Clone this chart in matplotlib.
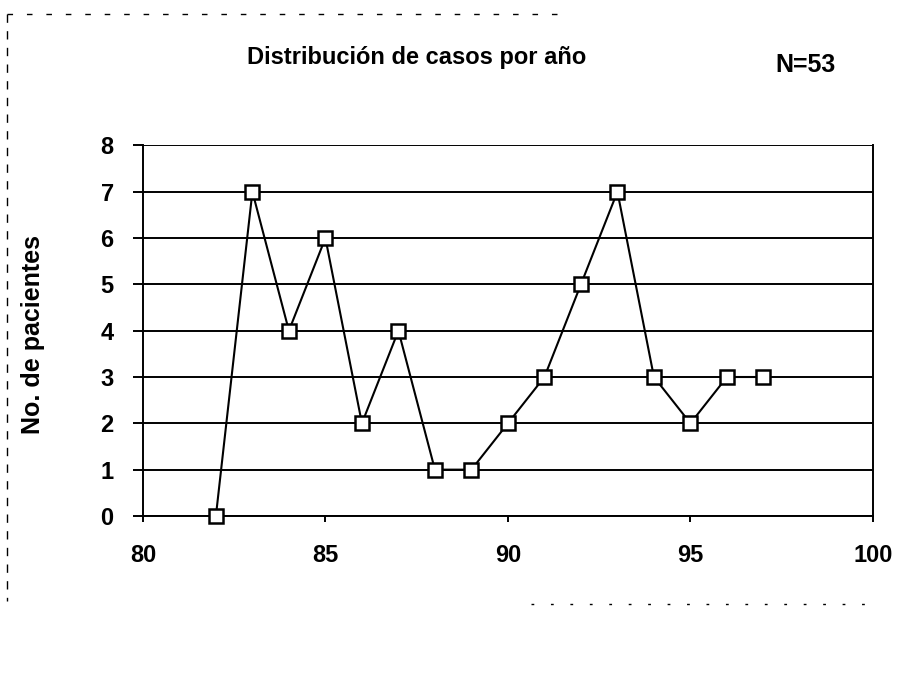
import matplotlib
matplotlib.use("Agg")
import matplotlib.pyplot as plt
from matplotlib.lines import Line2D

years = [82, 83, 84, 85, 86, 87, 88, 89, 90, 91, 92, 93, 94, 95, 96, 97]
cases = [0, 7, 4, 6, 2, 4, 1, 1, 2, 3, 5, 7, 3, 2, 3, 3]
x_ticks = [80, 85, 90, 95, 100]
y_ticks = [0, 1, 2, 3, 4, 5, 6, 7, 8]

plt.rcParams['font.family'] = ['Liberation Sans', 'DejaVu Sans']

fig = plt.figure(figsize=(9.16, 6.75), dpi=100)
ax = fig.add_axes([0.156, 0.2356, 0.797, 0.549])

ax.plot(years, cases, color='black', linewidth=1.5, marker='s', markersize=9.5,
        markerfacecolor='white', markeredgecolor='black', markeredgewidth=1.8,
        zorder=3, clip_on=False)

ax.set_xlim(80, 100)
ax.set_ylim(0, 8)
ax.set_xticks(x_ticks)
ax.set_yticks(y_ticks)
ax.yaxis.grid(True, color='black', linewidth=1.4)
ax.set_axisbelow(True)

for side in ['left', 'right', 'bottom']:
    ax.spines[side].set_linewidth(1.4)
ax.spines['top'].set_visible(False)

ax.tick_params(axis='y', direction='out', length=7, width=1.4, labelsize=17, pad=14)
ax.tick_params(axis='x', direction='out', length=4, width=1.4, labelsize=17, pad=16)
for lab in ax.get_xticklabels() + ax.get_yticklabels():
    lab.set_fontweight('bold')

fig.text(0.036, 0.504, 'No. de pacientes', fontsize=18, fontweight='bold',
         rotation=90, ha='center', va='center')

fig.text(0.455, 0.915, 'Distribución de casos por año', fontsize=17, fontweight='bold',
         ha='center', va='center')
fig.text(0.879, 0.903, 'N=53', fontsize=18, fontweight='bold', ha='center', va='center')

# faint scanned frame
fig.add_artist(Line2D([0.008, 0.61], [0.98, 0.98], transform=fig.transFigure,
                      color='black', linewidth=1, linestyle=(0, (4, 10))))
fig.add_artist(Line2D([0.008, 0.008], [0.98, 0.11], transform=fig.transFigure,
                      color='black', linewidth=1, linestyle=(0, (6, 6))))
fig.add_artist(Line2D([0.58, 0.95], [0.105, 0.105], transform=fig.transFigure,
                      color='black', linewidth=1, linestyle=(0, (2, 12))))

fig.savefig('out.png', dpi=100)
